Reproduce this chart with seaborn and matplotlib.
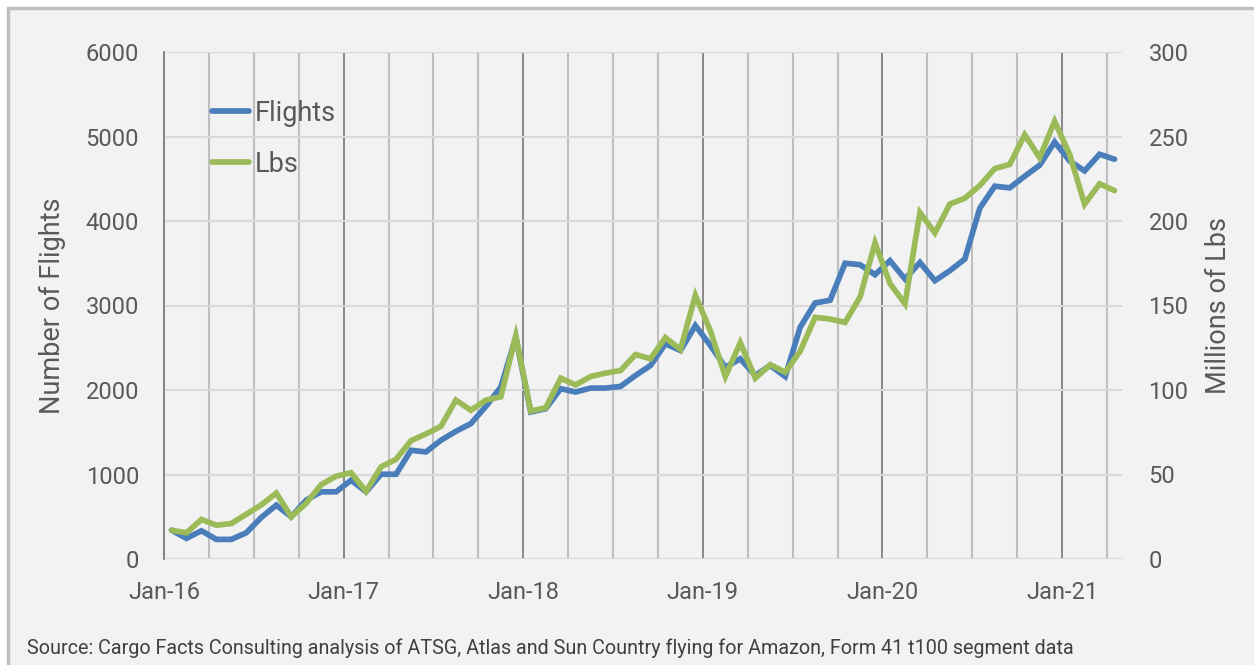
import matplotlib
matplotlib.use("Agg")
import matplotlib.pyplot as plt
from matplotlib.patches import Rectangle
from matplotlib.lines import Line2D
import seaborn as sns
import pandas as pd
import numpy as np

# ---- data ----
year_labels = ["Jan-16", "Jan-17", "Jan-18", "Jan-19", "Jan-20", "Jan-21"]

flights = [342, 244, 334, 232, 232, 311, 492, 637, 500, 697, 795,
           795, 933, 795, 1003, 1003, 1287, 1267, 1405, 1511, 1602,
           1806, 2034, 2624, 1739, 1779, 2015, 1976, 2023, 2023, 2042,
           2172, 2290, 2547, 2467, 2763, 2527, 2270, 2369, 2172, 2290,
           2160, 2743, 3030, 3062, 3500, 3483, 3365, 3530, 3314, 3510,
           3294, 3412, 3550, 4152, 4412, 4392, 4530, 4660, 4935, 4711,
           4593, 4790, 4731]

lbs = [17, 15.5, 23.4, 20, 21, 26.5, 32, 39, 25, 33, 44,
       49, 51, 40, 54.5, 59, 70, 74, 78.5, 94, 88,
       94, 96, 132, 87.5, 89.5, 107, 103, 108, 110, 111.5,
       121, 118.5, 131, 124, 156, 135, 108, 128, 107, 115,
       110.5, 123, 143, 142, 140, 155, 187, 163, 151, 205,
       193, 210, 213.5, 221, 231, 233.5, 251, 237.5, 259, 239.5,
       210, 222, 218]

df = pd.DataFrame({"month": np.arange(len(flights)), "Flights": flights, "Lbs": lbs})

blue = "#4a7ebb"
green = "#9bbb59"
text_col = "#595959"

sns.set_theme(style="white")
plt.rcParams["font.family"] = ["Roboto", "DejaVu Sans"]

fig = plt.figure(figsize=(12.54, 6.65), dpi=100)
fig.patch.set_facecolor("white")
frame = Rectangle((8 / 1254, -0.1), 1.2, (657 / 665) + 0.1,
                  transform=fig.transFigure, facecolor="#f2f2f2",
                  edgecolor="#c0c0c0", linewidth=2.5, zorder=-10)
fig.patches.append(frame)

ax = fig.add_axes([164 / 1254, 1 - 559 / 665, (1122 - 164) / 1254, (559 - 52) / 665])
ax.set_facecolor("none")
ax2 = ax.twinx()
ax2.set_facecolor("none")

lw = 4.1
sns.lineplot(data=df, x="month", y="Flights", ax=ax, color=blue, linewidth=lw,
             solid_joinstyle="miter", zorder=3)
sns.lineplot(data=df, x="month", y="Lbs", ax=ax2, color=green, linewidth=lw,
             solid_joinstyle="miter", zorder=3)

n = len(flights)
ax.set_xlim(-0.5, n - 0.5)
ax.set_ylim(0, 6000)
ax2.set_ylim(0, 300)
ax.set_yticks(np.arange(0, 6001, 1000))
ax2.set_yticks(np.arange(0, 301, 50))

ax.set_xticks(np.arange(0, n, 12) - 0.5)
ax.set_xticklabels(year_labels)
ax.set_xticks(np.arange(3, n, 3) - 0.5, minor=True)

# gridlines
ax.grid(False)
ax2.grid(False)
ax.yaxis.grid(True, color="#d9d9d9", linewidth=1.5)
ax.xaxis.grid(True, which="major", color="#7f7f7f", linewidth=1.3)
ax.xaxis.grid(True, which="minor", color="#bfbfbf", linewidth=1.5)
ax.set_axisbelow(True)

for a in (ax, ax2):
    for s in a.spines.values():
        s.set_visible(False)
ax.spines["left"].set_visible(True)
ax.spines["left"].set_color("#7f7f7f")
ax.spines["left"].set_linewidth(1.3)

ax.tick_params(axis="both", which="both", length=0, labelsize=17, colors=text_col)
ax.tick_params(axis="y", pad=18)
ax.tick_params(axis="x", pad=16)
ax2.tick_params(axis="y", length=0, labelsize=17, colors=text_col, pad=19)

ax.set_xlabel("")
ax.set_ylabel("Number of Flights", fontsize=19.5, color=text_col, labelpad=14)
ax2.set_ylabel("Millions of Lbs", fontsize=19.5, color=text_col, labelpad=12)

handles = [Line2D([], [], color=blue, linewidth=lw),
           Line2D([], [], color=green, linewidth=lw)]
leg = ax.legend(handles, ["Flights", "Lbs"], loc="upper left",
                bbox_to_anchor=(0.0355, 0.933), frameon=False, fontsize=19.5,
                borderpad=0, handlelength=1.4, handletextpad=0.2, labelspacing=0.9)
for t in leg.get_texts():
    t.set_color(text_col)

fig.text(27 / 1254, 1 - 648 / 665, "Source: Cargo Facts Consulting analysis of ATSG, Atlas and Sun Country "
         "flying for Amazon, Form 41 t100 segment data", fontsize=14.2, color="#404040",
         va="center", ha="left")

fig.savefig("out.png", dpi=100, facecolor=fig.get_facecolor())
